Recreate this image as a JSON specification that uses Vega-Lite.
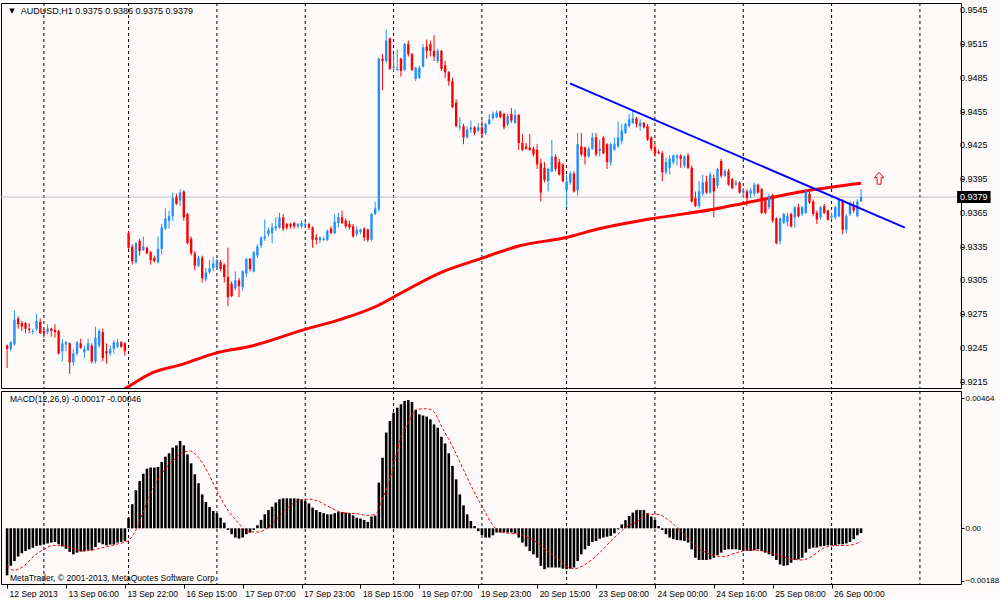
{
  "$schema": "https://vega.github.io/schema/vega-lite/v6.json",
  "description": "AUDUSD H1 candlestick chart with 200 MA, trendline and MACD(12,26,9) panel, MetaTrader style",
  "background": "#fffafa",
  "padding": {"left": 0, "top": 2, "right": 0, "bottom": 0},
  "bounds": "flush",
  "spacing": 3,
  "config": {
    "view": {"stroke": "#000000", "strokeWidth": 1, "fill": "#fffafa"},
    "font": "Liberation Sans",
    "axis": {"labelFont": "Liberation Sans", "labelFontSize": 9, "labelColor": "#000000", "tickColor": "#000000", "domain": false, "grid": false, "labelFlush": false, "labelOverlap": false, "labelBound": false}
  },
  "resolve": {"scale": {"x": "independent", "y": "independent"}, "axis": {"x": "independent", "y": "independent"}},
  "datasets": {
    "grid": [{"i":10},{"i":33},{"i":57},{"i":81},{"i":105},{"i":129},{"i":152},{"i":176},{"i":200},{"i":224},{"i":248}],
    "yt": [{"v":0.9215},{"v":0.9245},{"v":0.9275},{"v":0.9305},{"v":0.9335},{"v":0.9365},{"v":0.9395},{"v":0.9425},{"v":0.9455},{"v":0.9485},{"v":0.9515},{"v":0.9545}],
    "ma": [
      {"i":32,"v":0.92085},{"i":32.8,"v":0.92101},{"i":39.5,"v":0.92229},{"i":47.6,"v":0.92303},{"i":56.5,"v":0.92401},
      {"i":66.4,"v":0.92466},{"i":80.9,"v":0.92614},{"i":90.6,"v":0.92703},{"i":100.5,"v":0.92822},{"i":106.7,"v":0.92931},
      {"i":117.5,"v":0.93115},{"i":128.3,"v":0.93239},{"i":139,"v":0.93355},{"i":152.5,"v":0.93435},{"i":160.5,"v":0.93506},
      {"i":174,"v":0.93592},{"i":191.9,"v":0.93681},{"i":200.9,"v":0.9374},{"i":217,"v":0.93844},{"i":232,"v":0.93912}
    ],
    "sig": [
      {"i":0,"s":-0.00134},{"i":2,"s":-0.0015},{"i":4.6,"s":-0.00134},{"i":7.3,"s":-0.00099},{"i":10,"s":-0.00075},
      {"i":12.6,"s":-0.00061},{"i":15.3,"s":-0.00061},{"i":18,"s":-0.00073},{"i":20.7,"s":-0.00081},{"i":23.4,"s":-0.00077},
      {"i":26,"s":-0.00069},{"i":29.7,"s":-0.00057},{"i":32.8,"s":-0.00045},{"i":35,"s":-0.00006},{"i":37.3,"s":0.00068},
      {"i":39.5,"s":0.00139},{"i":42.2,"s":0.00199},{"i":45,"s":0.0024},{"i":47.6,"s":0.0027},{"i":49.8,"s":0.00276},
      {"i":52,"s":0.00252},{"i":54.8,"s":0.00193},{"i":57.5,"s":0.00121},{"i":60.1,"s":0.00062},{"i":62.8,"s":0.0002},
      {"i":65.5,"s":-0.00013},{"i":68.2,"s":-0.00013},{"i":70.9,"s":0.00002},{"i":73.6,"s":0.00038},{"i":76.3,"s":0.00074},
      {"i":79,"s":0.00098},{"i":81.7,"s":0.00104},{"i":84.3,"s":0.00098},{"i":87,"s":0.0008},{"i":89.7,"s":0.00062},
      {"i":92.4,"s":0.00054},{"i":95.1,"s":0.00052},{"i":97.8,"s":0.00046},{"i":100,"s":0.0005},{"i":102.3,"s":0.00115},
      {"i":104.5,"s":0.00199},{"i":106.7,"s":0.00312},{"i":109,"s":0.00377},{"i":111.2,"s":0.00425},{"i":113.9,"s":0.00427},
      {"i":115.7,"s":0.00419},{"i":118.4,"s":0.00355},{"i":121.1,"s":0.0029},{"i":123.8,"s":0.00215},{"i":126.5,"s":0.0014},
      {"i":129.2,"s":0.00074},{"i":131.5,"s":0.0002},{"i":133.6,"s":-0.0001},{"i":136.3,"s":-0.00018},{"i":139,"s":-0.00021},
      {"i":142.6,"s":-0.00039},{"i":146.2,"s":-0.00075},{"i":149.8,"s":-0.00111},{"i":152.5,"s":-0.0014},{"i":154.3,"s":-0.00144},
      {"i":157,"s":-0.00129},{"i":160.5,"s":-0.00093},{"i":164.1,"s":-0.00045},{"i":167.7,"s":-0.00001},{"i":171.3,"s":0.00026},
      {"i":174,"s":0.0005},{"i":176.7,"s":0.0005},{"i":179.4,"s":0.00032},{"i":182.1,"s":0.00002},{"i":184.7,"s":-0.00033},
      {"i":188.3,"s":-0.00075},{"i":191.9,"s":-0.00096},{"i":194.6,"s":-0.00101},{"i":198.2,"s":-0.00087},{"i":201.8,"s":-0.00077},
      {"i":205.3,"s":-0.00081},{"i":208.9,"s":-0.00093},{"i":212.5,"s":-0.00108},{"i":216.1,"s":-0.00113},{"i":218.8,"s":-0.00099},
      {"i":221.5,"s":-0.00073},{"i":225.1,"s":-0.00061},{"i":228.6,"s":-0.00061},{"i":232,"s":-0.00046}
    ],
    "bars": [
      {"i":0,"o":0.9247,"h":0.9248,"l":0.9227,"c":0.9244,"m":-0.00168},
      {"i":1,"o":0.9244,"h":0.9251,"l":0.9242,"c":0.925,"m":-0.00134},
      {"i":2,"o":0.9248,"h":0.9278,"l":0.9247,"c":0.927,"m":-0.00117},
      {"i":3,"o":0.9271,"h":0.9273,"l":0.9262,"c":0.9266,"m":-0.00101},
      {"i":4,"o":0.9267,"h":0.9269,"l":0.926,"c":0.9264,"m":-0.00089},
      {"i":5,"o":0.9267,"h":0.9268,"l":0.9258,"c":0.9262,"m":-0.00081},
      {"i":6,"o":0.9262,"h":0.9267,"l":0.9258,"c":0.9261,"m":-0.00075},
      {"i":7,"o":0.9259,"h":0.9262,"l":0.9257,"c":0.926,"m":-0.00069},
      {"i":8,"o":0.9262,"h":0.9275,"l":0.926,"c":0.9269,"m":-0.00063},
      {"i":9,"o":0.9268,"h":0.9271,"l":0.9257,"c":0.9258,"m":-0.00061},
      {"i":10,"o":0.926,"h":0.9262,"l":0.9254,"c":0.9258,"m":-0.00058},
      {"i":11,"o":0.9259,"h":0.9266,"l":0.9257,"c":0.9262,"m":-0.00054},
      {"i":12,"o":0.9262,"h":0.9263,"l":0.9255,"c":0.926,"m":-0.00051},
      {"i":13,"o":0.9261,"h":0.9266,"l":0.9254,"c":0.9259,"m":-0.00049},
      {"i":14,"o":0.926,"h":0.9261,"l":0.9239,"c":0.924,"m":-0.00057},
      {"i":15,"o":0.9242,"h":0.9253,"l":0.9233,"c":0.9249,"m":-0.00065},
      {"i":16,"o":0.9248,"h":0.9251,"l":0.9242,"c":0.925,"m":-0.00073},
      {"i":17,"o":0.9249,"h":0.925,"l":0.9222,"c":0.9232,"m":-0.00084},
      {"i":18,"o":0.9232,"h":0.9244,"l":0.9229,"c":0.924,"m":-0.00093},
      {"i":19,"o":0.924,"h":0.9251,"l":0.9238,"c":0.925,"m":-0.00087},
      {"i":20,"o":0.9249,"h":0.9253,"l":0.9244,"c":0.9245,"m":-0.00083},
      {"i":21,"o":0.9241,"h":0.9247,"l":0.9236,"c":0.9244,"m":-0.00082},
      {"i":22,"o":0.9243,"h":0.9253,"l":0.9242,"c":0.9249,"m":-0.00077},
      {"i":23,"o":0.9247,"h":0.9249,"l":0.9231,"c":0.9233,"m":-0.00079},
      {"i":24,"o":0.9233,"h":0.9264,"l":0.9231,"c":0.9254,"m":-0.00067},
      {"i":25,"o":0.9247,"h":0.9262,"l":0.9245,"c":0.926,"m":-0.00051},
      {"i":26,"o":0.9259,"h":0.9262,"l":0.9233,"c":0.9236,"m":-0.00057},
      {"i":27,"o":0.9242,"h":0.9249,"l":0.9231,"c":0.924,"m":-0.00061},
      {"i":28,"o":0.924,"h":0.9247,"l":0.9238,"c":0.9244,"m":-0.00058},
      {"i":29,"o":0.9244,"h":0.9252,"l":0.924,"c":0.925,"m":-0.00058},
      {"i":30,"o":0.9246,"h":0.9253,"l":0.9245,"c":0.925,"m":-0.00051},
      {"i":31,"o":0.925,"h":0.9251,"l":0.9245,"c":0.9246,"m":-0.00049},
      {"i":32,"o":0.9249,"h":0.925,"l":0.9238,"c":0.9242,"m":-0.00046},
      {"i":33,"o":0.9347,"h":0.9349,"l":0.9333,"c":0.9334,"m":0.00038},
      {"i":34,"o":0.9335,"h":0.9337,"l":0.9319,"c":0.9322,"m":0.00086},
      {"i":35,"o":0.9321,"h":0.9339,"l":0.932,"c":0.9338,"m":0.00136},
      {"i":36,"o":0.934,"h":0.9342,"l":0.9327,"c":0.9331,"m":0.00169},
      {"i":37,"o":0.9332,"h":0.9344,"l":0.9331,"c":0.9335,"m":0.00195},
      {"i":38,"o":0.9334,"h":0.9335,"l":0.9328,"c":0.9329,"m":0.00213},
      {"i":39,"o":0.933,"h":0.9331,"l":0.9319,"c":0.9323,"m":0.00217},
      {"i":40,"o":0.9325,"h":0.9327,"l":0.9321,"c":0.9322,"m":0.00217},
      {"i":41,"o":0.9321,"h":0.9344,"l":0.932,"c":0.9333,"m":0.00219},
      {"i":42,"o":0.9333,"h":0.9355,"l":0.9328,"c":0.9352,"m":0.00237},
      {"i":43,"o":0.9351,"h":0.9369,"l":0.935,"c":0.936,"m":0.00256},
      {"i":44,"o":0.9358,"h":0.9367,"l":0.9351,"c":0.9362,"m":0.00268},
      {"i":45,"o":0.9362,"h":0.9383,"l":0.9358,"c":0.9378,"m":0.00288},
      {"i":46,"o":0.9379,"h":0.9382,"l":0.9372,"c":0.9373,"m":0.00296},
      {"i":47,"o":0.9376,"h":0.9386,"l":0.9371,"c":0.9383,"m":0.00312},
      {"i":48,"o":0.9384,"h":0.9385,"l":0.9358,"c":0.9361,"m":0.00296},
      {"i":49,"o":0.9364,"h":0.9365,"l":0.9337,"c":0.9338,"m":0.00264},
      {"i":50,"o":0.9342,"h":0.9344,"l":0.9327,"c":0.9329,"m":0.00232},
      {"i":51,"o":0.9329,"h":0.9331,"l":0.9314,"c":0.9318,"m":0.00193},
      {"i":52,"o":0.9318,"h":0.9327,"l":0.9317,"c":0.9325,"m":0.00161},
      {"i":53,"o":0.9325,"h":0.9327,"l":0.9303,"c":0.9307,"m":0.00121},
      {"i":54,"o":0.9306,"h":0.9316,"l":0.9304,"c":0.9312,"m":0.00094},
      {"i":55,"o":0.9312,"h":0.9323,"l":0.9311,"c":0.9316,"m":0.00076},
      {"i":56,"o":0.9316,"h":0.9326,"l":0.9313,"c":0.932,"m":0.00062},
      {"i":57,"o":0.9316,"h":0.9324,"l":0.9315,"c":0.9323,"m":0.00054},
      {"i":58,"o":0.9321,"h":0.9323,"l":0.9313,"c":0.9315,"m":0.00038},
      {"i":59,"o":0.9319,"h":0.932,"l":0.9303,"c":0.9308,"m":0.0002},
      {"i":60,"o":0.9308,"h":0.9334,"l":0.9282,"c":0.929,"m":-0.00006},
      {"i":61,"o":0.9302,"h":0.9304,"l":0.929,"c":0.9291,"m":-0.00021},
      {"i":62,"o":0.9298,"h":0.9313,"l":0.9296,"c":0.9305,"m":-0.00033},
      {"i":63,"o":0.9305,"h":0.9307,"l":0.929,"c":0.93,"m":-0.00037},
      {"i":64,"o":0.9299,"h":0.9314,"l":0.9296,"c":0.9313,"m":-0.00033},
      {"i":65,"o":0.9311,"h":0.9325,"l":0.9308,"c":0.9324,"m":-0.00021},
      {"i":66,"o":0.9324,"h":0.9325,"l":0.9313,"c":0.9315,"m":-0.00015},
      {"i":67,"o":0.9313,"h":0.9331,"l":0.9312,"c":0.933,"m":-0.00006},
      {"i":68,"o":0.9327,"h":0.9337,"l":0.9325,"c":0.9335,"m":0.00011},
      {"i":69,"o":0.9336,"h":0.9344,"l":0.9334,"c":0.9343,"m":0.0003},
      {"i":70,"o":0.9342,"h":0.9359,"l":0.934,"c":0.9344,"m":0.0005},
      {"i":71,"o":0.9346,"h":0.9352,"l":0.9344,"c":0.935,"m":0.00065},
      {"i":72,"o":0.9347,"h":0.9356,"l":0.9338,"c":0.9352,"m":0.00077},
      {"i":73,"o":0.9351,"h":0.9361,"l":0.9349,"c":0.9353,"m":0.00092},
      {"i":74,"o":0.9352,"h":0.9365,"l":0.9351,"c":0.9361,"m":0.00104},
      {"i":75,"o":0.9361,"h":0.9364,"l":0.9349,"c":0.9351,"m":0.00107},
      {"i":76,"o":0.9355,"h":0.9356,"l":0.935,"c":0.9352,"m":0.00107},
      {"i":77,"o":0.9355,"h":0.9356,"l":0.9351,"c":0.9353,"m":0.00107},
      {"i":78,"o":0.9356,"h":0.9357,"l":0.9351,"c":0.9353,"m":0.00107},
      {"i":79,"o":0.9353,"h":0.9356,"l":0.9351,"c":0.9355,"m":0.00106},
      {"i":80,"o":0.9353,"h":0.9358,"l":0.9351,"c":0.9356,"m":0.00104},
      {"i":81,"o":0.9354,"h":0.9357,"l":0.9352,"c":0.9355,"m":0.00098},
      {"i":82,"o":0.9355,"h":0.9356,"l":0.935,"c":0.9352,"m":0.00089},
      {"i":83,"o":0.9352,"h":0.9353,"l":0.9334,"c":0.9341,"m":0.00074},
      {"i":84,"o":0.9343,"h":0.9346,"l":0.9337,"c":0.9341,"m":0.00065},
      {"i":85,"o":0.9341,"h":0.9344,"l":0.9338,"c":0.9343,"m":0.00058},
      {"i":86,"o":0.9341,"h":0.9344,"l":0.934,"c":0.9342,"m":0.00054},
      {"i":87,"o":0.9341,"h":0.935,"l":0.934,"c":0.9349,"m":0.0005},
      {"i":88,"o":0.9351,"h":0.9353,"l":0.9346,"c":0.9347,"m":0.0005},
      {"i":89,"o":0.9347,"h":0.9364,"l":0.9346,"c":0.9357,"m":0.00054},
      {"i":90,"o":0.9356,"h":0.9365,"l":0.9352,"c":0.9361,"m":0.00058},
      {"i":91,"o":0.9361,"h":0.9367,"l":0.9355,"c":0.9356,"m":0.00058},
      {"i":92,"o":0.9358,"h":0.936,"l":0.9351,"c":0.9353,"m":0.00056},
      {"i":93,"o":0.9355,"h":0.9358,"l":0.935,"c":0.9352,"m":0.00054},
      {"i":94,"o":0.9353,"h":0.9355,"l":0.9343,"c":0.9344,"m":0.00046},
      {"i":95,"o":0.9346,"h":0.9353,"l":0.9344,"c":0.935,"m":0.00038},
      {"i":96,"o":0.9348,"h":0.9351,"l":0.9346,"c":0.935,"m":0.00035},
      {"i":97,"o":0.9351,"h":0.9352,"l":0.934,"c":0.9343,"m":0.0003},
      {"i":98,"o":0.935,"h":0.9351,"l":0.9339,"c":0.9341,"m":0.00023},
      {"i":99,"o":0.9341,"h":0.9365,"l":0.934,"c":0.9364,"m":0.00042},
      {"i":100,"o":0.9364,"h":0.9375,"l":0.9363,"c":0.9369,"m":0.00046},
      {"i":101,"o":0.9368,"h":0.9503,"l":0.9366,"c":0.9502,"m":0.00163},
      {"i":102,"o":0.9502,"h":0.9506,"l":0.9474,"c":0.95,"m":0.00252},
      {"i":103,"o":0.95,"h":0.9528,"l":0.9498,"c":0.9518,"m":0.00342},
      {"i":104,"o":0.952,"h":0.9521,"l":0.9492,"c":0.9493,"m":0.00383},
      {"i":105,"o":0.9494,"h":0.9506,"l":0.9491,"c":0.9495,"m":0.00413},
      {"i":106,"o":0.9492,"h":0.951,"l":0.9491,"c":0.9493,"m":0.00431},
      {"i":107,"o":0.9502,"h":0.9503,"l":0.9486,"c":0.9491,"m":0.00443},
      {"i":108,"o":0.9492,"h":0.9516,"l":0.9491,"c":0.9515,"m":0.00455},
      {"i":109,"o":0.9515,"h":0.9518,"l":0.9504,"c":0.9506,"m":0.00458},
      {"i":110,"o":0.9506,"h":0.9507,"l":0.9491,"c":0.9492,"m":0.00451},
      {"i":111,"o":0.9484,"h":0.9495,"l":0.9482,"c":0.9494,"m":0.00422},
      {"i":112,"o":0.9485,"h":0.9496,"l":0.9484,"c":0.9494,"m":0.00407},
      {"i":113,"o":0.9495,"h":0.9515,"l":0.9494,"c":0.9512,"m":0.00403},
      {"i":114,"o":0.9513,"h":0.9519,"l":0.9502,"c":0.9509,"m":0.00399},
      {"i":115,"o":0.9515,"h":0.9518,"l":0.9504,"c":0.9509,"m":0.00389},
      {"i":116,"o":0.9509,"h":0.9523,"l":0.95,"c":0.9504,"m":0.00371},
      {"i":117,"o":0.95,"h":0.9511,"l":0.9498,"c":0.9509,"m":0.00359},
      {"i":118,"o":0.9509,"h":0.951,"l":0.9491,"c":0.9493,"m":0.00327},
      {"i":119,"o":0.9496,"h":0.95,"l":0.9485,"c":0.949,"m":0.00303},
      {"i":120,"o":0.949,"h":0.9491,"l":0.9478,"c":0.9482,"m":0.00268},
      {"i":121,"o":0.9482,"h":0.9485,"l":0.9458,"c":0.9459,"m":0.00223},
      {"i":122,"o":0.9463,"h":0.9466,"l":0.9441,"c":0.9442,"m":0.00175},
      {"i":123,"o":0.9441,"h":0.945,"l":0.9438,"c":0.9442,"m":0.00121},
      {"i":124,"o":0.9442,"h":0.9444,"l":0.9426,"c":0.9432,"m":0.00082},
      {"i":125,"o":0.9432,"h":0.9442,"l":0.9431,"c":0.9439,"m":0.0005},
      {"i":126,"o":0.9439,"h":0.9447,"l":0.9436,"c":0.9441,"m":0.00026},
      {"i":127,"o":0.9441,"h":0.9442,"l":0.9434,"c":0.9436,"m":0.00008},
      {"i":128,"o":0.9438,"h":0.9445,"l":0.9437,"c":0.9441,"m":-0.0001},
      {"i":129,"o":0.9441,"h":0.9447,"l":0.9432,"c":0.9435,"m":-0.00024},
      {"i":130,"o":0.9436,"h":0.9445,"l":0.9434,"c":0.9444,"m":-0.00033},
      {"i":131,"o":0.9444,"h":0.9453,"l":0.9443,"c":0.9448,"m":-0.00033},
      {"i":132,"o":0.9449,"h":0.9455,"l":0.9448,"c":0.9453,"m":-0.00025},
      {"i":133,"o":0.945,"h":0.9456,"l":0.9449,"c":0.9454,"m":-0.00015},
      {"i":134,"o":0.9455,"h":0.9456,"l":0.9449,"c":0.945,"m":-0.00015},
      {"i":135,"o":0.9453,"h":0.9454,"l":0.9439,"c":0.9441,"m":-0.00015},
      {"i":136,"o":0.9444,"h":0.9453,"l":0.9442,"c":0.9451,"m":-0.00015},
      {"i":137,"o":0.9453,"h":0.9458,"l":0.9445,"c":0.9447,"m":-0.00015},
      {"i":138,"o":0.9445,"h":0.9457,"l":0.9444,"c":0.9452,"m":-0.00018},
      {"i":139,"o":0.9452,"h":0.9453,"l":0.9421,"c":0.9427,"m":-0.00033},
      {"i":140,"o":0.9427,"h":0.9435,"l":0.942,"c":0.9421,"m":-0.00051},
      {"i":141,"o":0.9424,"h":0.9427,"l":0.9421,"c":0.9422,"m":-0.00065},
      {"i":142,"o":0.9423,"h":0.9435,"l":0.942,"c":0.9421,"m":-0.00081},
      {"i":143,"o":0.9422,"h":0.9424,"l":0.9415,"c":0.9417,"m":-0.00093},
      {"i":144,"o":0.9421,"h":0.9426,"l":0.9404,"c":0.9408,"m":-0.00105},
      {"i":145,"o":0.9409,"h":0.9413,"l":0.9375,"c":0.9383,"m":-0.00134},
      {"i":146,"o":0.9405,"h":0.941,"l":0.9392,"c":0.9394,"m":-0.00146},
      {"i":147,"o":0.9393,"h":0.9405,"l":0.9384,"c":0.9404,"m":-0.0014},
      {"i":148,"o":0.9402,"h":0.943,"l":0.9401,"c":0.9415,"m":-0.0014},
      {"i":149,"o":0.9415,"h":0.9417,"l":0.9402,"c":0.9404,"m":-0.0014},
      {"i":150,"o":0.941,"h":0.9413,"l":0.9398,"c":0.9399,"m":-0.0014},
      {"i":151,"o":0.9408,"h":0.9409,"l":0.9392,"c":0.9393,"m":-0.00144},
      {"i":152,"o":0.9385,"h":0.9399,"l":0.9371,"c":0.9393,"m":-0.00146},
      {"i":153,"o":0.9392,"h":0.9402,"l":0.939,"c":0.94,"m":-0.00144},
      {"i":154,"o":0.94,"h":0.9402,"l":0.9383,"c":0.9384,"m":-0.0014},
      {"i":155,"o":0.9385,"h":0.9436,"l":0.938,"c":0.9426,"m":-0.00117},
      {"i":156,"o":0.9424,"h":0.9436,"l":0.9415,"c":0.9417,"m":-0.00093},
      {"i":157,"o":0.9423,"h":0.9424,"l":0.9408,"c":0.9415,"m":-0.00075},
      {"i":158,"o":0.9415,"h":0.9424,"l":0.9414,"c":0.9422,"m":-0.00063},
      {"i":159,"o":0.9422,"h":0.9436,"l":0.9421,"c":0.9432,"m":-0.00049},
      {"i":160,"o":0.9432,"h":0.9436,"l":0.9415,"c":0.9417,"m":-0.00045},
      {"i":161,"o":0.942,"h":0.943,"l":0.9415,"c":0.9422,"m":-0.00037},
      {"i":162,"o":0.9432,"h":0.9433,"l":0.9417,"c":0.9418,"m":-0.00033},
      {"i":163,"o":0.9426,"h":0.9427,"l":0.9404,"c":0.941,"m":-0.0003},
      {"i":164,"o":0.941,"h":0.9427,"l":0.9407,"c":0.9426,"m":-0.00027},
      {"i":165,"o":0.9421,"h":0.9432,"l":0.942,"c":0.9426,"m":-0.00018},
      {"i":166,"o":0.9424,"h":0.9446,"l":0.9423,"c":0.9432,"m":-0.00004},
      {"i":167,"o":0.9429,"h":0.9444,"l":0.9426,"c":0.9438,"m":0.00014},
      {"i":168,"o":0.9436,"h":0.9445,"l":0.9435,"c":0.9444,"m":0.00029},
      {"i":169,"o":0.9442,"h":0.9453,"l":0.9441,"c":0.9448,"m":0.00044},
      {"i":170,"o":0.9445,"h":0.9456,"l":0.9444,"c":0.9449,"m":0.00056},
      {"i":171,"o":0.9449,"h":0.945,"l":0.9441,"c":0.9444,"m":0.00065},
      {"i":172,"o":0.9442,"h":0.9448,"l":0.9438,"c":0.9445,"m":0.00065},
      {"i":173,"o":0.9445,"h":0.9446,"l":0.944,"c":0.9441,"m":0.00065},
      {"i":174,"o":0.9442,"h":0.9444,"l":0.9429,"c":0.943,"m":0.00054},
      {"i":175,"o":0.9432,"h":0.9433,"l":0.942,"c":0.9422,"m":0.00042},
      {"i":176,"o":0.9423,"h":0.9426,"l":0.9415,"c":0.9418,"m":0.0003},
      {"i":177,"o":0.9419,"h":0.9421,"l":0.9417,"c":0.9418,"m":0.00008},
      {"i":178,"o":0.9418,"h":0.942,"l":0.9393,"c":0.9401,"m":-0.00006},
      {"i":179,"o":0.9401,"h":0.9414,"l":0.9399,"c":0.941,"m":-0.00021},
      {"i":180,"o":0.9405,"h":0.9416,"l":0.9399,"c":0.9413,"m":-0.00033},
      {"i":181,"o":0.941,"h":0.9417,"l":0.9408,"c":0.9416,"m":-0.00039},
      {"i":182,"o":0.9414,"h":0.9417,"l":0.9407,"c":0.9416,"m":-0.00042},
      {"i":183,"o":0.9416,"h":0.9417,"l":0.9405,"c":0.9413,"m":-0.00043},
      {"i":184,"o":0.9407,"h":0.9416,"l":0.9405,"c":0.9415,"m":-0.00045},
      {"i":185,"o":0.9416,"h":0.9418,"l":0.9404,"c":0.9405,"m":-0.00051},
      {"i":186,"o":0.9405,"h":0.9407,"l":0.9374,"c":0.9375,"m":-0.00075},
      {"i":187,"o":0.9378,"h":0.9384,"l":0.937,"c":0.9371,"m":-0.00105},
      {"i":188,"o":0.9371,"h":0.9393,"l":0.9369,"c":0.9384,"m":-0.00113},
      {"i":189,"o":0.9382,"h":0.9399,"l":0.938,"c":0.9392,"m":-0.00113},
      {"i":190,"o":0.9393,"h":0.9398,"l":0.9382,"c":0.9383,"m":-0.00113},
      {"i":191,"o":0.9383,"h":0.9401,"l":0.9382,"c":0.9399,"m":-0.00111},
      {"i":192,"o":0.9396,"h":0.9399,"l":0.9361,"c":0.9384,"m":-0.00105},
      {"i":193,"o":0.9389,"h":0.9405,"l":0.9387,"c":0.9404,"m":-0.00096},
      {"i":194,"o":0.9411,"h":0.9413,"l":0.9396,"c":0.9398,"m":-0.00087},
      {"i":195,"o":0.9398,"h":0.9404,"l":0.9397,"c":0.9402,"m":-0.00077},
      {"i":196,"o":0.9402,"h":0.9404,"l":0.9389,"c":0.939,"m":-0.00075},
      {"i":197,"o":0.9395,"h":0.9396,"l":0.9386,"c":0.9387,"m":-0.00075},
      {"i":198,"o":0.939,"h":0.9394,"l":0.9389,"c":0.9392,"m":-0.00075},
      {"i":199,"o":0.9392,"h":0.9393,"l":0.9382,"c":0.9383,"m":-0.00077},
      {"i":200,"o":0.9383,"h":0.9387,"l":0.938,"c":0.9385,"m":-0.00081},
      {"i":201,"o":0.9384,"h":0.9386,"l":0.9371,"c":0.9378,"m":-0.00081},
      {"i":202,"o":0.9382,"h":0.9387,"l":0.9378,"c":0.9385,"m":-0.00081},
      {"i":203,"o":0.9382,"h":0.9392,"l":0.938,"c":0.939,"m":-0.00079},
      {"i":204,"o":0.939,"h":0.9391,"l":0.9382,"c":0.9383,"m":-0.00075},
      {"i":205,"o":0.9386,"h":0.9387,"l":0.9364,"c":0.9365,"m":-0.00081},
      {"i":206,"o":0.9377,"h":0.9378,"l":0.9364,"c":0.9365,"m":-0.00087},
      {"i":207,"o":0.937,"h":0.9382,"l":0.9368,"c":0.938,"m":-0.00093},
      {"i":208,"o":0.9381,"h":0.9382,"l":0.9356,"c":0.9358,"m":-0.00099},
      {"i":209,"o":0.936,"h":0.9361,"l":0.9337,"c":0.9338,"m":-0.00113},
      {"i":210,"o":0.934,"h":0.9361,"l":0.9337,"c":0.936,"m":-0.00129},
      {"i":211,"o":0.9356,"h":0.9365,"l":0.9355,"c":0.9364,"m":-0.00134},
      {"i":212,"o":0.9357,"h":0.9365,"l":0.9353,"c":0.9362,"m":-0.00132},
      {"i":213,"o":0.9364,"h":0.9365,"l":0.9352,"c":0.9353,"m":-0.00123},
      {"i":214,"o":0.9361,"h":0.9371,"l":0.9352,"c":0.937,"m":-0.00113},
      {"i":215,"o":0.937,"h":0.9373,"l":0.9361,"c":0.9362,"m":-0.00111},
      {"i":216,"o":0.9364,"h":0.9371,"l":0.9362,"c":0.937,"m":-0.00105},
      {"i":217,"o":0.9365,"h":0.9386,"l":0.9364,"c":0.9384,"m":-0.00087},
      {"i":218,"o":0.9382,"h":0.9384,"l":0.9373,"c":0.9374,"m":-0.00073},
      {"i":219,"o":0.9375,"h":0.9377,"l":0.9362,"c":0.9364,"m":-0.00069},
      {"i":220,"o":0.9365,"h":0.9367,"l":0.9355,"c":0.9359,"m":-0.00069},
      {"i":221,"o":0.9361,"h":0.9371,"l":0.9359,"c":0.937,"m":-0.00065},
      {"i":222,"o":0.9371,"h":0.9373,"l":0.9364,"c":0.9365,"m":-0.00063},
      {"i":223,"o":0.9367,"h":0.9368,"l":0.9358,"c":0.9359,"m":-0.00061},
      {"i":224,"o":0.9361,"h":0.9365,"l":0.9359,"c":0.9362,"m":-0.00061},
      {"i":225,"o":0.9361,"h":0.9371,"l":0.9359,"c":0.937,"m":-0.00061},
      {"i":226,"o":0.9362,"h":0.9378,"l":0.9361,"c":0.9377,"m":-0.00057},
      {"i":227,"o":0.9375,"h":0.9377,"l":0.9346,"c":0.935,"m":-0.00057},
      {"i":228,"o":0.935,"h":0.9364,"l":0.9347,"c":0.9362,"m":-0.00054},
      {"i":229,"o":0.9364,"h":0.9375,"l":0.9362,"c":0.9374,"m":-0.00049},
      {"i":230,"o":0.9372,"h":0.9375,"l":0.9365,"c":0.9367,"m":-0.00039},
      {"i":231,"o":0.9362,"h":0.9377,"l":0.9361,"c":0.9375,"m":-0.00025},
      {"i":232,"o":0.9375,"h":0.9386,"l":0.9375,"c":0.9379,"m":-0.00017}
    ]
  },
  "vconcat": [
    {
      "width": 960,
      "height": 385,
      "layer": [
        {
          "data": {"name": "grid"},
          "mark": {"type": "rule", "color": "#000000", "strokeWidth": 1, "strokeDash": [3, 3], "clip": true},
          "encoding": {
            "x": {"field": "i", "type": "quantitative", "scale": {"domain": [-0.3, 257.8], "nice": false, "zero": false}, "axis": null}
          }
        },
        {
          "data": {"name": "yt"},
          "mark": {"type": "text", "color": "#000000", "fontSize": 9, "align": "left", "baseline": "middle", "dx": 4},
          "encoding": {
            "x": {"datum": 257.8, "type": "quantitative", "scale": {"domain": [-0.3, 257.8], "nice": false, "zero": false}, "axis": null},
            "y": {
              "field": "v", "type": "quantitative",
              "scale": {"domain": [0.92093, 0.95515], "nice": false, "zero": false},
              "axis": {"orient": "right", "title": null, "values": [0.9215, 0.9245, 0.9275, 0.9305, 0.9335, 0.9365, 0.9395, 0.9425, 0.9455, 0.9485, 0.9515, 0.9545], "labels": false, "tickSize": 3}
            },
            "text": {"field": "v", "type": "quantitative", "format": ".4f"}
          }
        },
        {
          "data": {"values": [{}]},
          "mark": {"type": "rule", "color": "#c0c0c0", "strokeWidth": 1},
          "encoding": {
            "y": {"datum": 0.9379, "type": "quantitative", "scale": {"domain": [0.92093, 0.95515], "nice": false, "zero": false}}
          }
        },
        {
          "data": {"name": "ma"},
          "mark": {"type": "line", "color": "#ff0000", "strokeWidth": 3, "clip": true, "interpolate": "monotone"},
          "encoding": {
            "x": {"field": "i", "type": "quantitative", "scale": {"domain": [-0.3, 257.8], "nice": false, "zero": false}, "axis": null},
            "y": {"field": "v", "type": "quantitative", "scale": {"domain": [0.92093, 0.95515], "nice": false, "zero": false}}
          }
        },
        {
          "data": {"name": "bars"},
          "mark": {"type": "rule", "strokeWidth": 1, "clip": true},
          "encoding": {
            "x": {"field": "i", "type": "quantitative", "scale": {"domain": [-0.3, 257.8], "nice": false, "zero": false}, "axis": null},
            "y": {"field": "l", "type": "quantitative", "scale": {"domain": [0.92093, 0.95515], "nice": false, "zero": false}},
            "y2": {"field": "h"},
            "color": {"condition": {"test": "datum.c >= datum.o", "value": "#1e90ff"}, "value": "#ff0000"}
          }
        },
        {
          "data": {"name": "bars"},
          "mark": {"type": "bar", "size": 2.4, "clip": true},
          "encoding": {
            "x": {"field": "i", "type": "quantitative", "scale": {"domain": [-0.3, 257.8], "nice": false, "zero": false}, "axis": null},
            "y": {"field": "o", "type": "quantitative", "scale": {"domain": [0.92093, 0.95515], "nice": false, "zero": false}},
            "y2": {"field": "c"},
            "color": {"condition": {"test": "datum.c >= datum.o", "value": "#1e90ff"}, "value": "#ff0000"}
          }
        },
        {
          "data": {"values": [{}]},
          "mark": {"type": "rule", "color": "#0000ff", "strokeWidth": 2},
          "encoding": {
            "x": {"datum": 152.9, "type": "quantitative", "scale": {"domain": [-0.3, 257.8], "nice": false, "zero": false}, "axis": null},
            "x2": {"datum": 243.9},
            "y": {"datum": 0.94801, "type": "quantitative", "scale": {"domain": [0.92093, 0.95515], "nice": false, "zero": false}},
            "y2": {"datum": 0.93518}
          }
        },
        {
          "data": {"values": [{}]},
          "mark": {"type": "point", "shape": "M0,-1L0.8,-0.1L0.33,-0.1L0.33,1L-0.33,1L-0.33,-0.1L-0.8,-0.1Z", "size": 140, "stroke": "#ff0000", "strokeWidth": 1, "fill": "#fffafa", "filled": true, "opacity": 1},
          "encoding": {
            "x": {"datum": 236.9, "type": "quantitative", "scale": {"domain": [-0.3, 257.8], "nice": false, "zero": false}, "axis": null},
            "y": {"datum": 0.93957, "type": "quantitative", "scale": {"domain": [0.92093, 0.95515], "nice": false, "zero": false}}
          }
        },
        {
          "data": {"values": [{}]},
          "mark": {"type": "rect", "color": "#000000"},
          "encoding": {
            "x": {"datum": 258.1, "type": "quantitative", "scale": {"domain": [-0.3, 257.8], "nice": false, "zero": false}, "axis": null},
            "x2": {"datum": 267.2},
            "y": {"datum": 0.93843, "type": "quantitative", "scale": {"domain": [0.92093, 0.95515], "nice": false, "zero": false}},
            "y2": {"datum": 0.93738}
          }
        },
        {
          "data": {"values": [{}]},
          "mark": {"type": "text", "text": "0.9379", "color": "#ffffff", "fontSize": 9, "align": "left", "baseline": "middle"},
          "encoding": {
            "x": {"datum": 258.9, "type": "quantitative", "scale": {"domain": [-0.3, 257.8], "nice": false, "zero": false}, "axis": null},
            "y": {"datum": 0.9379, "type": "quantitative", "scale": {"domain": [0.92093, 0.95515], "nice": false, "zero": false}}
          }
        },
        {
          "data": {"values": [{}]},
          "mark": {"type": "text", "text": "▼", "color": "#000000", "fontSize": 7, "align": "center", "baseline": "middle", "font": "DejaVu Sans"},
          "encoding": {
            "x": {"datum": 1.3, "type": "quantitative", "scale": {"domain": [-0.3, 257.8], "nice": false, "zero": false}, "axis": null},
            "y": {"datum": 0.95444, "type": "quantitative", "scale": {"domain": [0.92093, 0.95515], "nice": false, "zero": false}}
          }
        },
        {
          "data": {"values": [{}]},
          "mark": {"type": "text", "text": "AUDUSD,H1  0.9375 0.9386 0.9375 0.9379", "color": "#000000", "fontSize": 9, "align": "left", "baseline": "middle"},
          "encoding": {
            "x": {"datum": 3.73, "type": "quantitative", "scale": {"domain": [-0.3, 257.8], "nice": false, "zero": false}, "axis": null},
            "y": {"datum": 0.95444, "type": "quantitative", "scale": {"domain": [0.92093, 0.95515], "nice": false, "zero": false}}
          }
        }
      ]
    },
    {
      "width": 960,
      "height": 193,
      "layer": [
        {
          "data": {"name": "grid"},
          "mark": {"type": "rule", "color": "#000000", "strokeWidth": 1, "strokeDash": [3, 3], "clip": true},
          "encoding": {
            "x": {"field": "i", "type": "quantitative", "scale": {"domain": [-0.3, 257.8], "nice": false, "zero": false}}
          }
        },
        {
          "data": {"name": "bars"},
          "mark": {"type": "bar", "size": 2.6, "color": "#000000", "clip": true},
          "encoding": {
            "x": {
              "field": "i", "type": "quantitative",
              "scale": {"domain": [-0.3, 257.8], "nice": false, "zero": false},
              "axis": {
                "orient": "bottom", "title": null,
                "values": [0, 16, 32, 48, 64, 80, 96, 112, 128, 144, 160, 176, 192, 208, 224],
                "labelExpr": "['12 Sep 2013','13 Sep 06:00','13 Sep 22:00','16 Sep 15:00','17 Sep 07:00','17 Sep 23:00','18 Sep 15:00','19 Sep 07:00','19 Sep 23:00','20 Sep 15:00','23 Sep 08:00','24 Sep 00:00','24 Sep 16:00','25 Sep 08:00','26 Sep 00:00'][round(datum.value / 16)]",
                "labelAlign": "left", "labelOffset": 2, "tickSize": 4, "labelPadding": 1, "labelFlush": false, "labelFontSize": 8.5
              }
            },
            "y": {
              "field": "m", "type": "quantitative",
              "scale": {"domain": [-0.001989, 0.004904], "nice": false, "zero": false},
              "axis": {"orient": "right", "title": null, "values": [0.00464, 0, -0.00188], "labelExpr": "datum.value == 0 ? '0.00' : format(datum.value, '.5f')", "tickSize": 3, "labelPadding": 1, "labelFontSize": 8}
            },
            "y2": {"datum": 0}
          }
        },
        {
          "data": {"name": "sig"},
          "mark": {"type": "line", "color": "#ff0000", "strokeWidth": 1, "strokeDash": [3, 2], "interpolate": "monotone", "clip": true},
          "encoding": {
            "x": {"field": "i", "type": "quantitative", "scale": {"domain": [-0.3, 257.8], "nice": false, "zero": false}},
            "y": {"field": "s", "type": "quantitative", "scale": {"domain": [-0.001989, 0.004904], "nice": false, "zero": false}}
          }
        },
        {
          "data": {"values": [{}]},
          "mark": {"type": "text", "text": "MACD(12,26,9) -0.00017 -0.00046", "color": "#000000", "fontSize": 8.5, "align": "left", "baseline": "middle"},
          "encoding": {
            "x": {"datum": 0.78, "type": "quantitative", "scale": {"domain": [-0.3, 257.8], "nice": false, "zero": false}},
            "y": {"datum": 0.004618, "type": "quantitative", "scale": {"domain": [-0.001989, 0.004904], "nice": false, "zero": false}}
          }
        },
        {
          "data": {"values": [{}]},
          "mark": {"type": "text", "text": "MetaTrader, © 2001-2013, MetaQuotes Software Corp.", "color": "#000000", "fontSize": 8.5, "align": "left", "baseline": "middle"},
          "encoding": {
            "x": {"datum": 0.78, "type": "quantitative", "scale": {"domain": [-0.3, 257.8], "nice": false, "zero": false}},
            "y": {"datum": -0.001775, "type": "quantitative", "scale": {"domain": [-0.001989, 0.004904], "nice": false, "zero": false}}
          }
        }
      ]
    }
  ]
}
